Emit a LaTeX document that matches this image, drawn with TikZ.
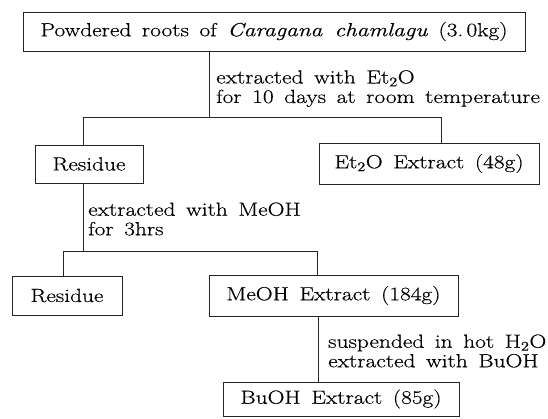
\documentclass[tikz,border=0pt]{standalone}
\usepackage{fontspec}
\setmainfont{Latin Modern Roman}[FakeStretch=1.23, WordSpace=1.5, FakeBold=0.4]
\begin{document}
\begin{tikzpicture}[x=1pt, y=-1pt,
  lbl/.style={font=\fontsize{19}{19.5}\selectfont, text=black},
  box/.style={lbl, draw=black!85, line width=0.8pt, inner sep=0pt, align=center},
  note/.style={lbl, inner sep=0pt, anchor=west, align=left},
  link/.style={draw=black!85, line width=0.8pt}]
\useasboundingbox (0,0) rectangle (548,418);
% boxes
\node[box, minimum width=502pt, minimum height=39pt] (top) at (274,31.5)
  {Powdered roots of \textit{Caragana chamlagu} (3.\,0kg)};
\node[box, minimum width=108pt, minimum height=38pt] (res1) at (89,164) {Residue};
\node[box, minimum width=220pt, minimum height=41pt] (et2o) at (429,163.5)
  {Et\textsubscript{2}O Extract (48g)};
\node[box, minimum width=110pt, minimum height=39pt] (res2) at (67,295.5) {Residue};
\node[box, minimum width=249pt, minimum height=41pt] (meoh) at (333.5,295.5)
  {MeOH Extract (184g)};
\node[box, minimum width=236pt, minimum height=34pt] (buoh) at (341,399)
  {BuOH Extract (85g)};
% notes
\node[note] (n1) at (216,88.5) {extracted with Et\textsubscript{2}O\\for 10 days at room temperature};
\node[note] (n2) at (88,219) {extracted with MeOH\\for 3hrs};
\node[note] (n3) at (328,351) {suspended in hot H\textsubscript{2}O\\extracted with BuOH};
% junctions
\coordinate (j1) at (209,117);
\coordinate (t1) at (83,117);
\coordinate (t2) at (441,117);
\coordinate (j2) at (83,251);
\coordinate (t3) at (63,251);
\coordinate (t4) at (317,251);
\coordinate (j3) at (318,0);
% connectors
\draw[link] (top.south -| j1) -- (j1);
\draw[link] (res1.north -| t1) -- (t1) -- (t2) -- (et2o.north -| t2);
\draw[link] (res1.south -| j2) -- (j2);
\draw[link] (res2.north -| t3) -- (t3) -- (t4) -- (meoh.north -| t4);
\draw[link] (meoh.south -| j3) -- (buoh.north -| j3);
\end{tikzpicture}
\end{document}
